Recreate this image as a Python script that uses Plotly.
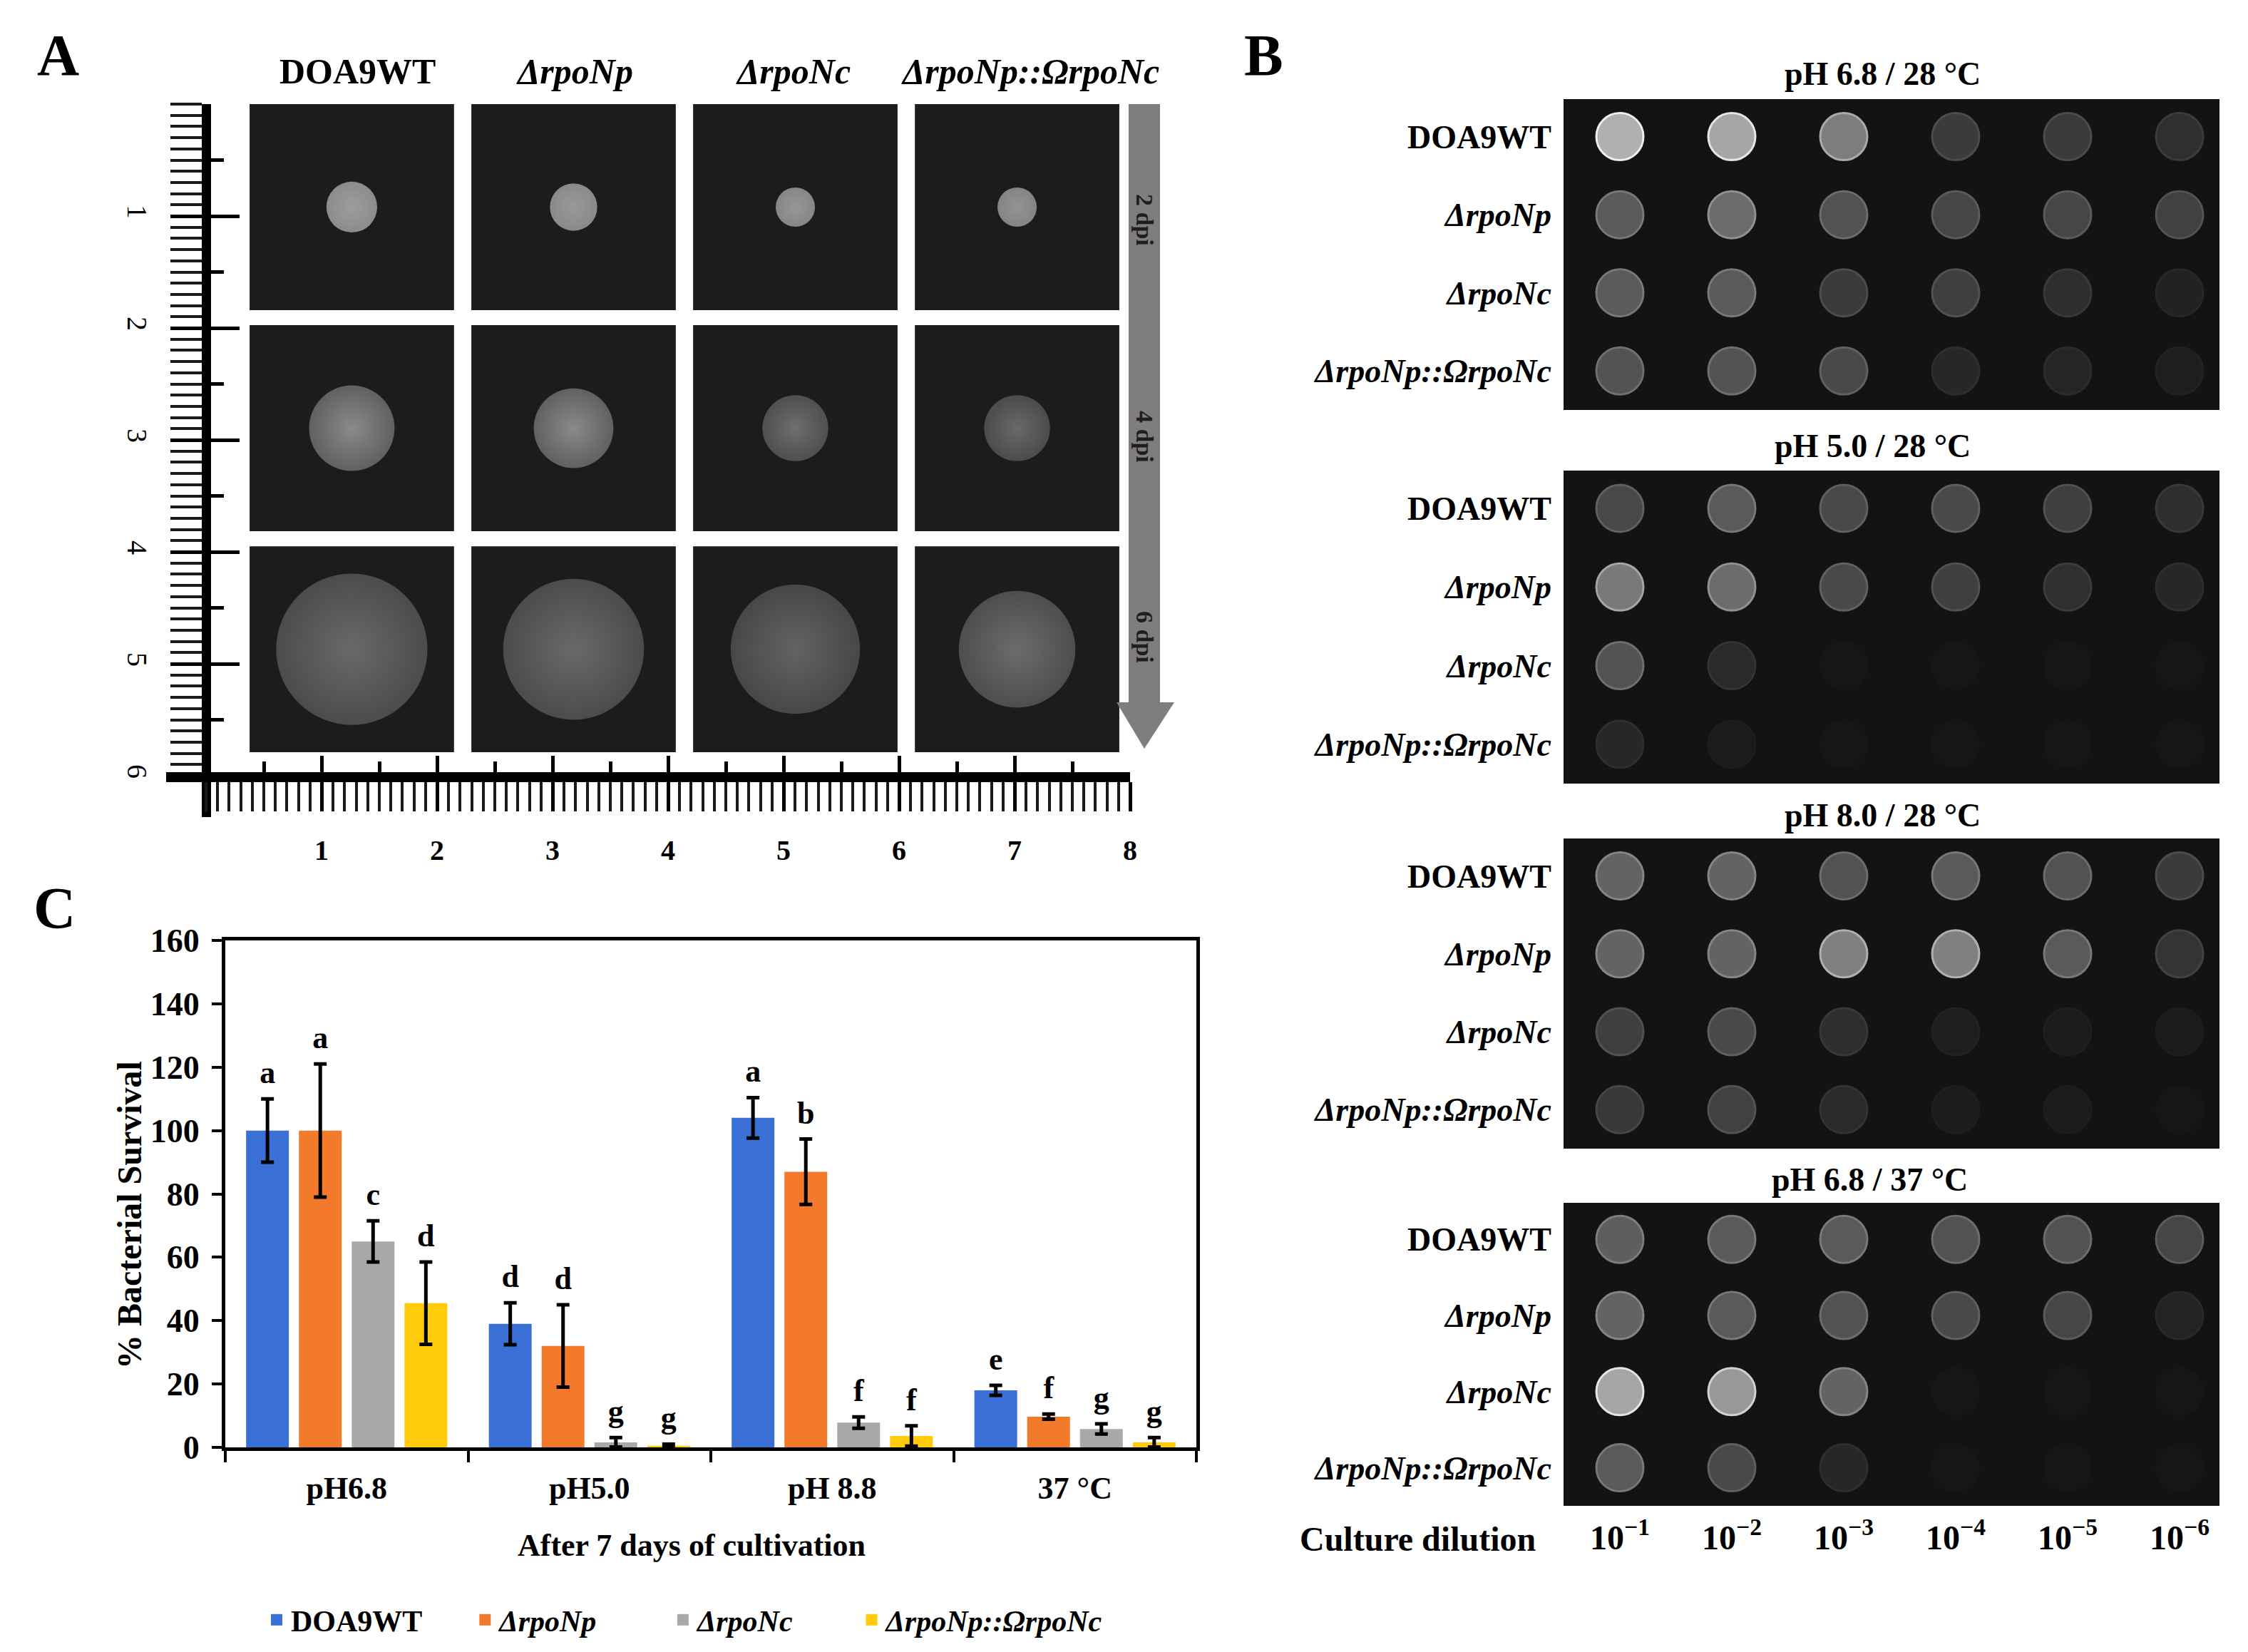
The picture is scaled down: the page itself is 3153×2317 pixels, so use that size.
import plotly.graph_objects as go
import numpy as np

W, H = 3153, 2317
SERIF = 'Liberation Serif'

# ---------------- data ----------------
strains = ['DOA9WT', 'ΔrpoNp', 'ΔrpoNc', 'ΔrpoNp::ΩrpoNc']
strain_html = ['DOA9WT', '<i>ΔrpoNp</i>', '<i>ΔrpoNc</i>', '<i>ΔrpoNp::ΩrpoNc</i>']

dpi_labels = ['2 dpi', '4 dpi', '6 dpi']
colony_2dpi = [0.44, 0.41, 0.34, 0.34]
colony_4dpi = [0.74, 0.69, 0.57, 0.57]
colony_6dpi = [1.31, 1.22, 1.12, 1.01]
bright_2dpi = [0.88, 0.86, 0.84, 0.82]
bright_4dpi = [0.76, 0.76, 0.58, 0.54]
bright_6dpi = [0.54, 0.54, 0.50, 0.56]
ruler_x = [1, 2, 3, 4, 5, 6, 7, 8]
ruler_y = [1, 2, 3, 4, 5, 6]

# B: spot growth (0 = nothing, 1 = dense white spot), rows = strains, cols = dilutions
dilutions = ['10<sup>−1</sup>', '10<sup>−2</sup>', '10<sup>−3</sup>',
             '10<sup>−4</sup>', '10<sup>−5</sup>', '10<sup>−6</sup>']
conditions = ['pH 6.8 / 28 °C', 'pH 5.0 / 28 °C', 'pH 8.0 / 28 °C', 'pH 6.8 / 37 °C']
growth_68_28 = [[0.90, 0.84, 0.60, 0.22, 0.22, 0.15],
                [0.40, 0.50, 0.35, 0.28, 0.28, 0.25],
                [0.40, 0.40, 0.22, 0.24, 0.14, 0.07],
                [0.36, 0.36, 0.30, 0.10, 0.09, 0.05]]
growth_50_28 = [[0.30, 0.40, 0.30, 0.30, 0.24, 0.14],
                [0.58, 0.50, 0.30, 0.24, 0.15, 0.10],
                [0.36, 0.12, 0.00, 0.00, 0.00, 0.00],
                [0.10, 0.03, 0.00, 0.00, 0.00, 0.00]]
growth_80_28 = [[0.45, 0.45, 0.35, 0.40, 0.35, 0.22],
                [0.45, 0.45, 0.62, 0.62, 0.40, 0.18],
                [0.24, 0.30, 0.14, 0.05, 0.04, 0.03],
                [0.20, 0.25, 0.12, 0.04, 0.03, 0.00]]
growth_68_37 = [[0.42, 0.40, 0.40, 0.35, 0.35, 0.28],
                [0.45, 0.40, 0.35, 0.30, 0.28, 0.08],
                [0.84, 0.76, 0.45, 0.00, 0.00, 0.00],
                [0.40, 0.30, 0.10, 0.00, 0.00, 0.00]]
growth_all = [growth_68_28, growth_50_28, growth_80_28, growth_68_37]

# C: % bacterial survival after 7 days
groups = ['pH6.8', 'pH5.0', 'pH 8.8', '37 °C']
surv_wt = [100, 39, 104, 18]
surv_np = [100, 32, 87, 9.7]
surv_nc = [65, 1.6, 7.8, 5.8]
surv_comp = [45.5, 0.5, 3.6, 1.6]
err_wt = [10, 6.6, 6.4, 1.6]
err_np = [21, 13, 10.3, 0.8]
err_nc = [6.5, 1.5, 1.8, 1.6]
err_comp = [13, 0.5, 3.2, 1.5]
let_wt = ['a', 'd', 'a', 'e']
let_np = ['a', 'd', 'b', 'f']
let_nc = ['c', 'g', 'f', 'g']
let_comp = ['d', 'g', 'f', 'g']


# ---------------- helpers ----------------
def fx(x):
    return x / W


def fy(y):
    return 1 - y / H


def gray(b):
    v = int(22 + b * 215)
    return f'rgb({v},{v},{min(v + 3, 255)})'


def font(size, bold=True, color='black'):
    return dict(family=SERIF, size=size, color=color, weight='bold' if bold else 'normal')


def note(text, x, y, size, bold=True, angle=0, color='black'):
    return dict(text=text, x=fx(x), y=fy(y), xref='paper', yref='paper', showarrow=False,
                xanchor='center', yanchor='middle', textangle=angle,
                font=font(size, bold, color))


fig = go.Figure()

# ================= panel A =================
A_X0, A_UNIT_X = 289, 162      # ruler origin / px per cm
A_Y0, A_UNIT_Y = 146, 157
ax_left, ax_right = 233, 1585
ay_top, ay_bot = 146, 1146
xr = [(ax_left - A_X0) / A_UNIT_X, (ax_right - A_X0) / A_UNIT_X]
yr = [(ay_bot - A_Y0) / A_UNIT_Y, 0]

tile_x0, tile_dx, tile_w = 0.377, 1.92, 1.77
tile_y0, tile_dy, tile_h = 0.0, 1.975, 1.84

shapes = []
for r in range(3):
    for c in range(4):
        shapes.append(dict(type='rect', xref='x', yref='y', layer='below',
                           x0=tile_x0 + c * tile_dx, x1=tile_x0 + c * tile_dx + tile_w,
                           y0=tile_y0 + r * tile_dy, y1=tile_y0 + r * tile_dy + tile_h,
                           fillcolor='#1c1c1d', line_width=0))

diam_all = [colony_2dpi, colony_4dpi, colony_6dpi]
bright_all = [bright_2dpi, bright_4dpi, bright_6dpi]
col_x, col_y, col_size, col_edge, col_core = [], [], [], [], []
for r in range(3):
    for c in range(4):
        col_x.append(tile_x0 + c * tile_dx + tile_w / 2)
        col_y.append(tile_y0 + r * tile_dy + tile_h / 2)
        col_size.append(diam_all[r][c] * A_UNIT_X)
        col_edge.append(gray(bright_all[r][c] * (0.88 if r == 0 else 0.64)))
        col_core.append(gray(bright_all[r][c]))
fig.add_trace(go.Scatter(
    x=col_x, y=col_y, mode='markers', xaxis='x', yaxis='y', showlegend=False,
    hoverinfo='skip', cliponaxis=False, offsetgroup='A',
    marker=dict(size=col_size, color=col_edge,
                gradient=dict(type='radial', color=col_core), line_width=0)))

# empty traces so the extra ruler-tick axes get drawn
fig.add_trace(go.Scatter(x=[None], y=[None], xaxis='x7', yaxis='y', showlegend=False,
                         offsetgroup='A'))
fig.add_trace(go.Scatter(x=[None], y=[None], xaxis='x', yaxis='y7', showlegend=False,
                         offsetgroup='A'))

tenths_x = [round(v, 1) for v in np.arange(0, 8.01, 0.1)]
tenths_y = [round(v, 1) for v in np.arange(0, 6.01, 0.1)]
halves_x = [v + 0.5 for v in range(8)]
halves_y = [v + 0.5 for v in range(6)]

xa = dict(domain=[fx(ax_left), fx(ax_right)], range=xr, anchor='free',
          position=fy(1090), showgrid=False, zeroline=False, showline=True,
          linewidth=14, linecolor='black', ticks='outside', ticklen=41, tickwidth=5,
          tickcolor='black', tickmode='array', tickvals=ruler_x,
          ticktext=[str(v) for v in ruler_x], tickfont=font(40), ticklabelstandoff=20,
          minor=dict(tickmode='array', tickvals=tenths_x, ticks='outside', ticklen=41,
                     tickwidth=4, tickcolor='#1a1a1a'))
ya = dict(domain=[fy(ay_bot), fy(ay_top)], range=yr, anchor='free',
          position=fx(A_X0), showgrid=False, zeroline=False, showline=True,
          linewidth=13, linecolor='black', ticks='outside', ticklen=44, tickwidth=5,
          tickcolor='black', tickmode='array', tickvals=ruler_y,
          ticktext=[str(v) for v in ruler_y], tickfont=font(40, bold=False),
          tickangle=90, ticklabelstandoff=12,
          minor=dict(tickmode='array', tickvals=tenths_y, ticks='outside', ticklen=44,
                     tickwidth=4, tickcolor='#1a1a1a'))
xa7 = dict(overlaying='x', range=xr, anchor='free', position=fy(1090),
           showgrid=False, zeroline=False, showline=False, ticks='inside',
           tickmode='array', tickvals=list(range(9)), ticklen=30, tickwidth=5,
           tickcolor='black', showticklabels=False,
           minor=dict(tickmode='array', tickvals=halves_x, ticks='inside', ticklen=22,
                      tickwidth=5, tickcolor='black'))
ya7 = dict(overlaying='y', range=yr, anchor='free', position=fx(A_X0),
           showgrid=False, zeroline=False, showline=False, ticks='inside',
           tickmode='array', tickvals=list(range(7)), ticklen=46, tickwidth=5,
           tickcolor='black', showticklabels=False,
           minor=dict(tickmode='array', tickvals=halves_y, ticks='inside', ticklen=24,
                      tickwidth=5, tickcolor='black'))

# grey time arrow
ax0, ax1, hx0, hx1, hy, tip = 1583, 1627, 1566, 1647, 985, 1050
arrow_path = (f'M{fx(ax0)},{fy(146)} L{fx(ax1)},{fy(146)} L{fx(ax1)},{fy(hy)} '
              f'L{fx(hx1)},{fy(hy)} L{fx((ax0 + ax1) / 2)},{fy(tip)} '
              f'L{fx(hx0)},{fy(hy)} L{fx(ax0)},{fy(hy)} Z')
shapes.append(dict(type='path', xref='paper', yref='paper', path=arrow_path,
                   fillcolor='#7f7d7e', line_width=0))

annotations = []
for txt, yy in zip(dpi_labels, [308, 612, 893]):
    annotations.append(note(txt, 1606, yy, 34, angle=90, color='#1e1e1e'))
for lab, xx in zip(strain_html, [501, 806, 1112, 1445]):
    annotations.append(note(lab, xx, 100, 50))

# ================= panel B =================
B_x0, B_x1 = 2193, 3113
B_col0, B_colstep = 2272, 157
b_panels = [(139, 575), (660, 1099), (1176, 1611), (1687, 2112)]
b_title_pos = [(2640, 103), (2626, 626), (2640, 1143), (2622, 1654)]
axes_b = {}
for k, (top, bot) in enumerate(b_panels):
    n = k + 2
    fig.add_trace(go.Scatter(
        x=[c for r in range(4) for c in range(6)],
        y=[r for r in range(4) for c in range(6)],
        mode='markers', xaxis=f'x{n}', yaxis=f'y{n}', showlegend=False,
        hoverinfo='skip', cliponaxis=False,
        marker=dict(size=66,
                    color=[gray(growth_all[k][r][c] * 0.8) for r in range(4) for c in range(6)],
                    line=dict(width=3, color=[gray(min(1, growth_all[k][r][c] * 1.15))
                                              for r in range(4) for c in range(6)]))))
    axes_b[f'xaxis{n}'] = dict(
        domain=[fx(B_x0), fx(B_x1)],
        range=[(B_x0 - B_col0) / B_colstep, (B_x1 - B_col0) / B_colstep],
        anchor=f'y{n}', showgrid=False, zeroline=False, showline=False, ticks='',
        tickmode='array', tickvals=list(range(6)), ticktext=dilutions,
        showticklabels=(k == 3), ticklabelstandoff=12, tickfont=font(48))
    axes_b[f'yaxis{n}'] = dict(
        domain=[fy(bot), fy(top)], range=[3.5, -0.48], anchor=f'x{n}',
        showgrid=False, zeroline=False, showline=False, ticks='',
        tickmode='array', tickvals=list(range(4)), ticktext=strain_html,
        ticklabelstandoff=16, tickfont=font(46))
    shapes.append(dict(type='rect', xref=f'x{n} domain', yref=f'y{n} domain',
                       x0=0, x1=1, y0=0, y1=1, layer='below',
                       fillcolor='#131314', line_width=0))
    annotations.append(note(conditions[k], b_title_pos[k][0], b_title_pos[k][1], 46))
annotations.append(note('Culture dilution', 1988, 2158, 48))

# ================= panel C =================
bar_colors = ['#3a6fd6', '#f27a2a', '#a9a9a9', '#ffcb0a']
legend_pad = [6, 9, 8, 0]
series = [(surv_wt, err_wt, let_wt), (surv_np, err_np, let_np),
          (surv_nc, err_nc, let_nc), (surv_comp, err_comp, let_comp)]
for i, (vals, errs, lets) in enumerate(series):
    fig.add_trace(go.Bar(
        x=groups, y=vals, name=strains[i], showlegend=False,
        xaxis='x6', yaxis='y6', offsetgroup=str(i),
        marker=dict(color=bar_colors[i], line=dict(width=0)),
        error_y=dict(type='data', array=errs, visible=True, color='black',
                     thickness=5, width=9)))
for i, (vals, errs, lets) in enumerate(series):
    fig.add_trace(go.Scatter(
        x=groups, y=[v + e + 2.5 for v, e in zip(vals, errs)], text=lets,
        mode='text', textposition='top center', xaxis='x6', yaxis='y6',
        offsetgroup=str(i), showlegend=False, hoverinfo='skip', cliponaxis=False,
        textfont=font(44)))
    # legend entry with a larger square swatch
    fig.add_trace(go.Scatter(
        x=[None], y=[None], mode='markers', xaxis='x6', yaxis='y6',
        offsetgroup=str(i), name=strain_html[i] + '\u00a0' * legend_pad[i],
        marker=dict(symbol='square', size=30, color=bar_colors[i], line_width=0)))

xa6 = dict(domain=[fx(316), fx(1678)], anchor='y6', type='category',
           showline=True, linewidth=5, linecolor='black', mirror=True,
           ticks='outside', tickson='boundaries', ticklen=16, tickwidth=4,
           tickcolor='black', showgrid=False, zeroline=False,
           tickfont=font(44), ticklabelstandoff=14)
ya6 = dict(domain=[fy(2030), fy(1319)], anchor='x6', range=[0, 160], dtick=20,
           showline=True, linewidth=5, linecolor='black', mirror=True,
           ticks='outside', ticklen=14, tickwidth=4, tickcolor='black',
           showgrid=False, zeroline=False, tickfont=font(46), ticklabelstandoff=8)
annotations.append(note('% Bacterial Survival', 182, 1704, 48, angle=-90))
annotations.append(note('After 7 days of cultivation', 970, 2167, 44))

# panel letters
for lab, xx, yy in [('A', 81, 77), ('B', 1772, 77), ('C', 76, 1273)]:
    annotations.append(note(lab, xx, yy, 82))

fig.update_layout(
    width=W, height=H, margin=dict(l=0, r=0, t=0, b=0, autoexpand=False),
    paper_bgcolor='white', plot_bgcolor='white',
    barmode='group', bargap=0.13, bargroupgap=0.19,
    scattermode='group', scattergap=0.13,
    xaxis=xa, yaxis=ya, xaxis7=xa7, yaxis7=ya7, xaxis6=xa6, yaxis6=ya6,
    shapes=shapes, annotations=annotations,
    legend=dict(orientation='h', x=fx(368), y=fy(2272), xanchor='left', yanchor='middle',
                font=font(42), bgcolor='rgba(0,0,0,0)', itemsizing='trace'),
    **axes_b,
)

fig.write_html('out.html', config={'displayModeBar': False},
               post_script="document.body.style.margin='0px';")
